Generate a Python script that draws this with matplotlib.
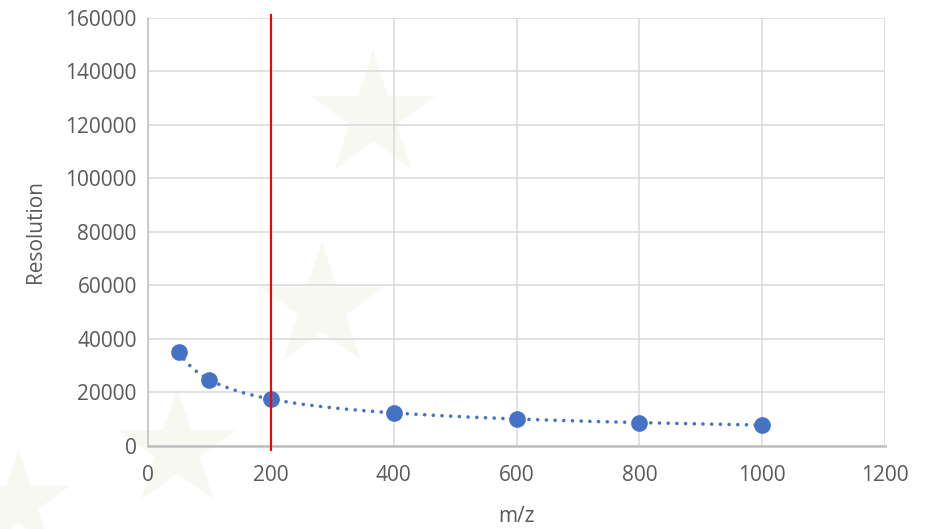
import numpy as np
import matplotlib
matplotlib.use("Agg")
import matplotlib.pyplot as plt

mz = [50, 100, 200, 400, 600, 800, 1000]
resolution = [35000, 24800, 17500, 12400, 10100, 8700, 7800]
x_ticks = [0, 200, 400, 600, 800, 1000, 1200]
y_ticks = [0, 20000, 40000, 60000, 80000, 100000, 120000, 140000, 160000]
ref_mz = 200

plt.rcParams['font.family'] = ['Open Sans', 'DejaVu Sans']

fig = plt.figure(figsize=(9.33, 5.29), dpi=100)

# very faint background stars (watermark)
bg = fig.add_axes([0, 0, 1, 1], zorder=-1)
bg.set_axis_off()
bg.set_xlim(0, 1)
bg.set_ylim(0, 1)
bg.scatter([0.40, 0.345, 0.19, 0.02], [0.78, 0.42, 0.15, 0.05], marker='*',
           s=[9000, 9000, 8000, 6000], color='#f8f8f3', linewidths=0)

ax = fig.add_axes([0.1586, 0.157, 0.79, 0.809])

# power trendline fitted on the data
b, a = np.polyfit(np.log(mz), np.log(resolution), 1)
xs = np.linspace(min(mz), max(mz), 300)
ax.plot(xs, np.exp(a) * xs ** b, color='#4472C4', lw=2.6,
        linestyle=(0, (0.01, 2.4)), dash_capstyle='round', zorder=3)
ax.plot(mz, resolution, 'o', color='#4472C4', ms=11, mec='#4472C4', zorder=4)

ax.plot([ref_mz, ref_mz], [-1500, 161200], color='#FF0000', lw=1.5,
        clip_on=False, zorder=5)

ax.set_xlim(0, 1200)
ax.set_ylim(0, 160000)
ax.set_xticks(x_ticks)
ax.set_yticks(y_ticks)
ax.set_facecolor('none')
ax.grid(True, color='#d9d9d9', lw=1.1)
ax.set_axisbelow(True)
for s in ['top', 'right']:
    ax.spines[s].set_visible(False)
ax.spines['left'].set_color('#c0c0c0')
ax.spines['left'].set_linewidth(1.1)
ax.spines['bottom'].set_color('#bfbfbf')
ax.spines['bottom'].set_linewidth(1.8)
ax.tick_params(length=0, labelsize=15, labelcolor='#595959', pad=8)
ax.tick_params(axis='x', pad=14)

ax.set_xlabel('m/z', fontsize=15, color='#595959', labelpad=14)
ax.set_ylabel('Resolution', fontsize=15, color='#595959', labelpad=14)

fig.savefig('out.png', dpi=100)
